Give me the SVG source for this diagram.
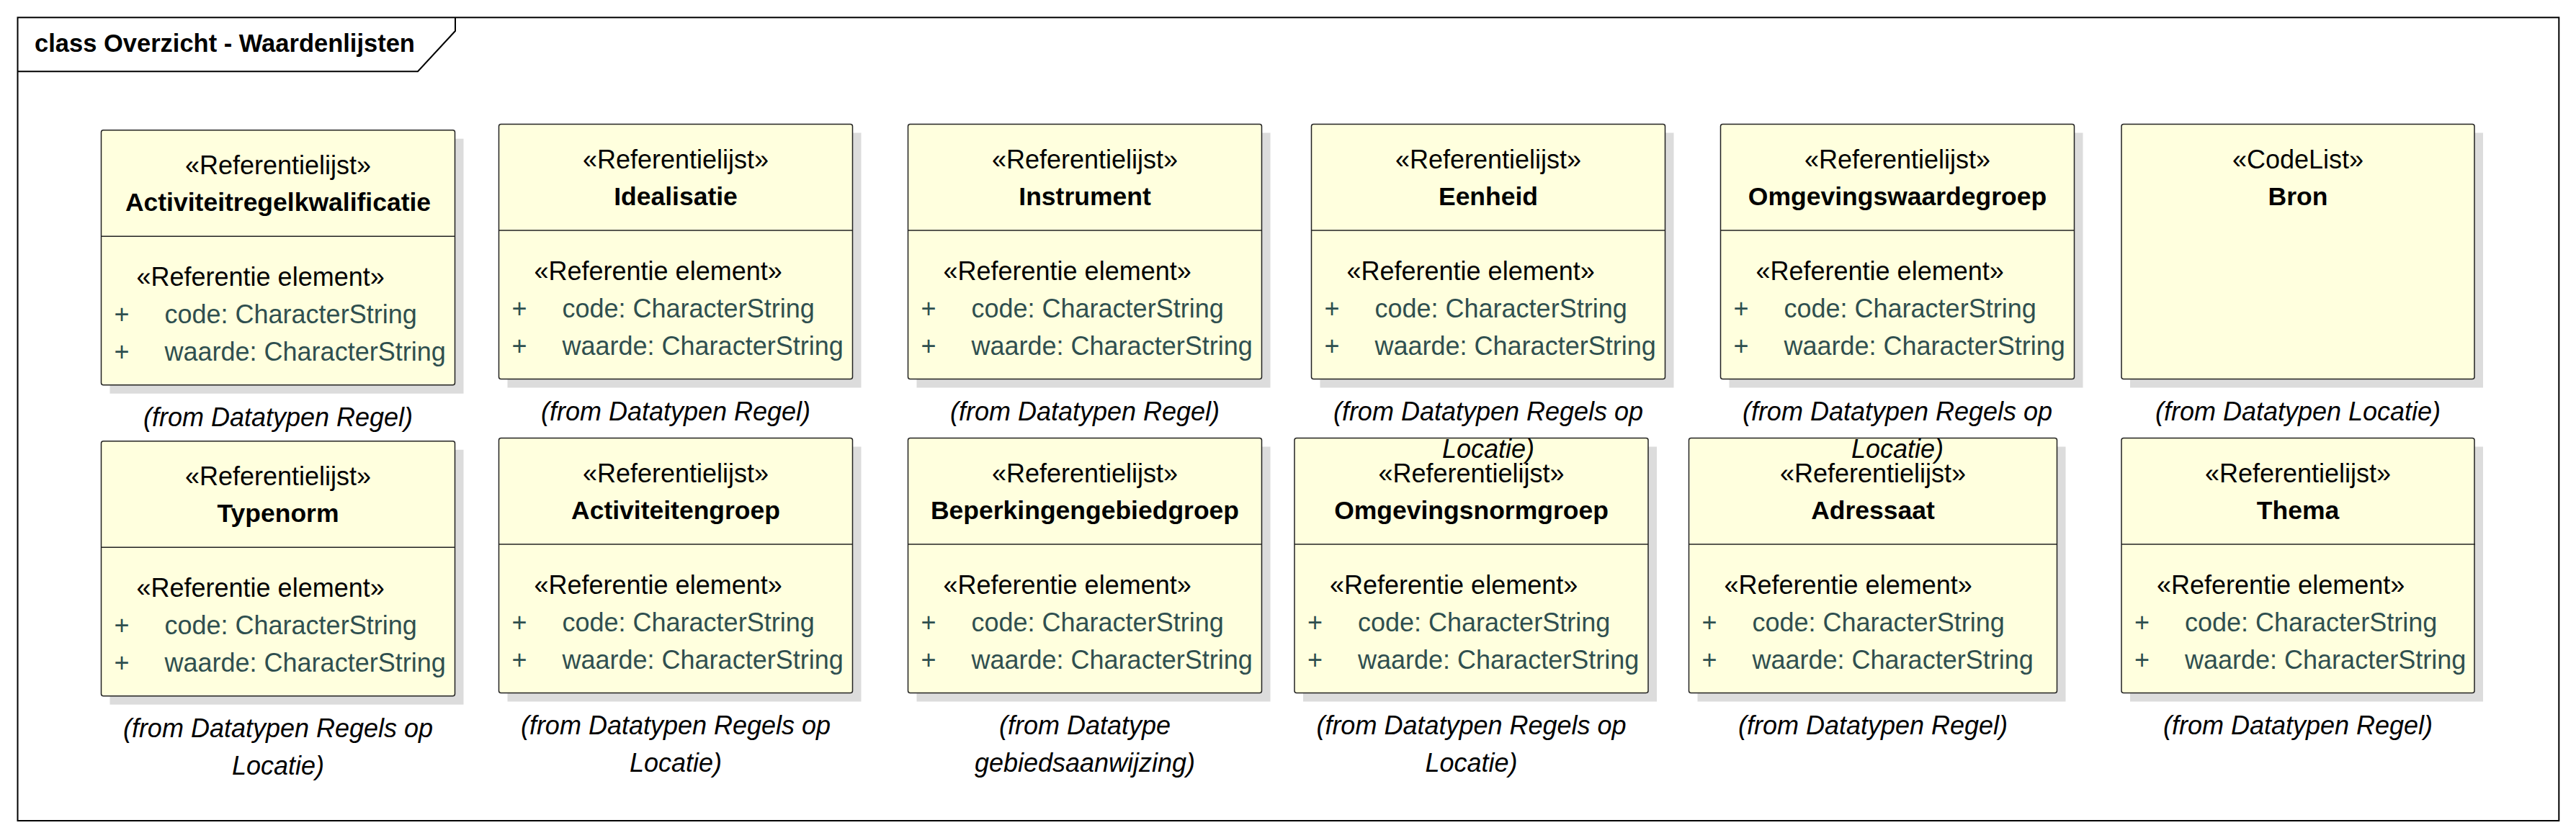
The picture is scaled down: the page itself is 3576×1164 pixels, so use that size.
<svg xmlns="http://www.w3.org/2000/svg" width="3576" height="1164" viewBox="0 0 3576 1164">
<style>
.frame{fill:none;stroke:#000;stroke-width:2}
.shadow{fill:#DCDCDC}
.box{fill:#FFFFDE;stroke:#222;stroke-width:1.5}
.sep{stroke:#222;stroke-width:1.5}
text{font-family:"Liberation Sans",Arial,sans-serif;font-size:36px;fill:#000}
.title{font-weight:bold;font-size:34.5px}
.st{text-anchor:middle}
.nm{text-anchor:middle;font-weight:bold;font-size:35.5px}
.at{fill:#2F4F4F}
.fr{text-anchor:middle;font-style:italic}
</style>
<defs>
<g id="attrs">
<line class="sep" x1="0" y1="147.5" x2="491" y2="147.5"/>
<text x="49" y="216">«Referentie element»</text>
<text class="at" x="18" y="268">+</text>
<text class="at" x="88" y="268">code: CharacterString</text>
<text class="at" x="18" y="320">+</text>
<text class="at" x="88" y="320">waarde: CharacterString</text>
</g>
</defs>
<rect width="3576" height="1164" fill="#fff"/>
<g id="frame">
<rect class="frame" x="24.5" y="24.3" width="3527.8" height="1115.7"/>
<path class="frame" d="M24.5,99.3 H580 L632,43 V24.3"/>
<text class="title" x="48" y="72">class Overzicht - Waardenlijsten</text>
</g>
<g id="connectors"/>
<g id="Typenorm" transform="translate(140.5,612.7)">
<rect class="shadow" x="12" y="12" width="491" height="354"/>
<rect class="box" width="491" height="354" rx="3"/>
<text class="st" x="245.5" y="61">«Referentielijst»</text>
<text class="nm" x="245.5" y="112">Typenorm</text>
<use href="#attrs"/>
<text class="fr" x="245.5" y="411">(from Datatypen Regels op</text>
<text class="fr" x="245.5" y="463">Locatie)</text>
</g>
<g id="Activiteitengroep" transform="translate(692.5,608.5)">
<rect class="shadow" x="12" y="12" width="491" height="354"/>
<rect class="box" width="491" height="354" rx="3"/>
<text class="st" x="245.5" y="61">«Referentielijst»</text>
<text class="nm" x="245.5" y="112">Activiteitengroep</text>
<use href="#attrs"/>
<text class="fr" x="245.5" y="411">(from Datatypen Regels op</text>
<text class="fr" x="245.5" y="463">Locatie)</text>
</g>
<g id="Beperkingengebiedgroep" transform="translate(1260.5,608.5)">
<rect class="shadow" x="12" y="12" width="491" height="354"/>
<rect class="box" width="491" height="354" rx="3"/>
<text class="st" x="245.5" y="61">«Referentielijst»</text>
<text class="nm" x="245.5" y="112">Beperkingengebiedgroep</text>
<use href="#attrs"/>
<text class="fr" x="245.5" y="411">(from Datatype</text>
<text class="fr" x="245.5" y="463">gebiedsaanwijzing)</text>
</g>
<g id="Omgevingsnormgroep" transform="translate(1797,608.5)">
<rect class="shadow" x="12" y="12" width="491" height="354"/>
<rect class="box" width="491" height="354" rx="3"/>
<text class="st" x="245.5" y="61">«Referentielijst»</text>
<text class="nm" x="245.5" y="112">Omgevingsnormgroep</text>
<use href="#attrs"/>
<text class="fr" x="245.5" y="411">(from Datatypen Regels op</text>
<text class="fr" x="245.5" y="463">Locatie)</text>
</g>
<g id="Adressaat" transform="translate(2344.5,608.5)">
<rect class="shadow" x="12" y="12" width="511" height="354"/>
<rect class="box" width="511" height="354" rx="3"/>
<text class="st" x="255.5" y="61">«Referentielijst»</text>
<text class="nm" x="255.5" y="112">Adressaat</text>
<line class="sep" x1="0" y1="147.5" x2="511" y2="147.5"/>
<text x="49" y="216">«Referentie element»</text>
<text class="at" x="18" y="268">+</text>
<text class="at" x="88" y="268">code: CharacterString</text>
<text class="at" x="18" y="320">+</text>
<text class="at" x="88" y="320">waarde: CharacterString</text>
<text class="fr" x="255.5" y="411">(from Datatypen Regel)</text>
</g>
<g id="Thema" transform="translate(2945,608.5)">
<rect class="shadow" x="12" y="12" width="490" height="354"/>
<rect class="box" width="490" height="354" rx="3"/>
<text class="st" x="245" y="61">«Referentielijst»</text>
<text class="nm" x="245" y="112">Thema</text>
<use href="#attrs"/>
<text class="fr" x="245" y="411">(from Datatypen Regel)</text>
</g>
<g id="Activiteitregelkwalificatie" transform="translate(140.5,180.7)">
<rect class="shadow" x="12" y="12" width="491" height="354"/>
<rect class="box" width="491" height="354" rx="3"/>
<text class="st" x="245.5" y="61">«Referentielijst»</text>
<text class="nm" x="245.5" y="112">Activiteitregelkwalificatie</text>
<use href="#attrs"/>
<text class="fr" x="245.5" y="411">(from Datatypen Regel)</text>
</g>
<g id="Idealisatie" transform="translate(692.5,172.5)">
<rect class="shadow" x="12" y="12" width="491" height="354"/>
<rect class="box" width="491" height="354" rx="3"/>
<text class="st" x="245.5" y="61">«Referentielijst»</text>
<text class="nm" x="245.5" y="112">Idealisatie</text>
<use href="#attrs"/>
<text class="fr" x="245.5" y="411">(from Datatypen Regel)</text>
</g>
<g id="Instrument" transform="translate(1260.5,172.5)">
<rect class="shadow" x="12" y="12" width="491" height="354"/>
<rect class="box" width="491" height="354" rx="3"/>
<text class="st" x="245.5" y="61">«Referentielijst»</text>
<text class="nm" x="245.5" y="112">Instrument</text>
<use href="#attrs"/>
<text class="fr" x="245.5" y="411">(from Datatypen Regel)</text>
</g>
<g id="Eenheid" transform="translate(1820.5,172.5)">
<rect class="shadow" x="12" y="12" width="491" height="354"/>
<rect class="box" width="491" height="354" rx="3"/>
<text class="st" x="245.5" y="61">«Referentielijst»</text>
<text class="nm" x="245.5" y="112">Eenheid</text>
<use href="#attrs"/>
<text class="fr" x="245.5" y="411">(from Datatypen Regels op</text>
<text class="fr" x="245.5" y="463">Locatie)</text>
</g>
<g id="Omgevingswaardegroep" transform="translate(2388.5,172.5)">
<rect class="shadow" x="12" y="12" width="491" height="354"/>
<rect class="box" width="491" height="354" rx="3"/>
<text class="st" x="245.5" y="61">«Referentielijst»</text>
<text class="nm" x="245.5" y="112">Omgevingswaardegroep</text>
<use href="#attrs"/>
<text class="fr" x="245.5" y="411">(from Datatypen Regels op</text>
<text class="fr" x="245.5" y="463">Locatie)</text>
</g>
<g id="Bron" transform="translate(2945,172.5)">
<rect class="shadow" x="12" y="12" width="490" height="354"/>
<rect class="box" width="490" height="354" rx="3"/>
<text class="st" x="245" y="61">«CodeList»</text>
<text class="nm" x="245" y="112">Bron</text>
<text class="fr" x="245" y="411">(from Datatypen Locatie)</text>
</g>
</svg>
